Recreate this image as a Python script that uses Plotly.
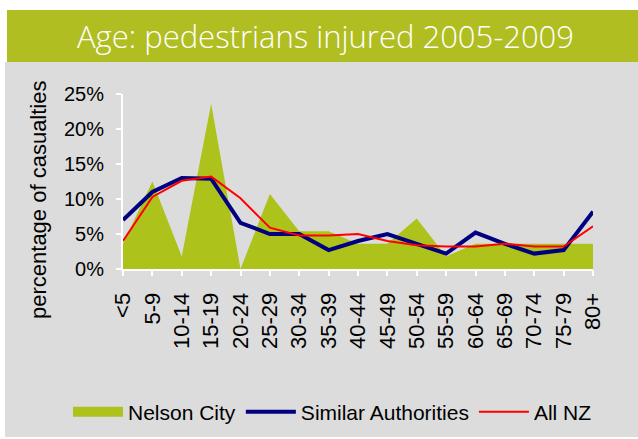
import plotly.graph_objects as go

categories = ["<5", "5-9", "10-14", "15-19", "20-24", "25-29", "30-34", "35-39", "40-44",
              "45-49", "50-54", "55-59", "60-64", "65-69", "70-74", "75-79", "80+"]
nelson_city = [0.036, 0.125, 0.018, 0.236, 0.0, 0.107, 0.054, 0.054, 0.036,
               0.036, 0.072, 0.018, 0.036, 0.036, 0.036, 0.036, 0.036]
similar_auth = [0.070, 0.110, 0.130, 0.129, 0.066, 0.050, 0.050, 0.027, 0.040,
                0.050, 0.036, 0.022, 0.052, 0.036, 0.022, 0.027, 0.082]
all_nz = [0.040, 0.103, 0.126, 0.132, 0.101, 0.059, 0.048, 0.048, 0.050,
          0.040, 0.034, 0.032, 0.032, 0.036, 0.032, 0.032, 0.061]

W, H = 638, 439
L, R, T, B = 123, 45, 94, 170
PW, PH = W - L - R, H - T - B

def px(x):
    return (x - L) / PW

def py(y):
    return (H - B - y) / PH

GREEN_AREA = "#adc21a"
GREEN_BAR = "#b0be22"
GRAY = "#dcdcdc"
FONT = "Liberation Sans, Arial, sans-serif"

fig = go.Figure()
fig.add_trace(go.Scatter(x=categories, y=nelson_city, name="Nelson City", mode="lines",
                         fill="tozeroy", fillcolor=GREEN_AREA, showlegend=False,
                         legendgroup="nelson", line=dict(width=0, color=GREEN_AREA)))
# legend-only entry giving the Nelson City key a solid block swatch
fig.add_trace(go.Scatter(x=[None], y=[None], name="Nelson City", mode="lines",
                         legendgroup="nelson", line=dict(width=13, color=GREEN_AREA)))
fig.add_trace(go.Scatter(x=categories, y=similar_auth, name="Similar Authorities", mode="lines",
                         line=dict(color="#000080", width=4)))
fig.add_trace(go.Scatter(x=categories, y=all_nz, name="All NZ", mode="lines",
                         line=dict(color="#ff0000", width=2)))

shapes = [
    dict(type="rect", xref="paper", yref="paper", x0=px(5), x1=px(638), y0=py(437), y1=py(62),
         fillcolor=GRAY, line=dict(width=0), layer="below"),
    dict(type="rect", xref="paper", yref="paper", x0=px(7), x1=px(638), y0=py(62), y1=py(10),
         fillcolor=GREEN_BAR, line=dict(width=0), layer="below"),
]

annotations = [
    dict(text="Age: pedestrians injured 2005-2009", xref="paper", yref="paper",
         x=px(325), y=py(36), xanchor="center", yanchor="middle", showarrow=False,
         font=dict(family="Open Sans, Lato, sans-serif", size=31, color="white", weight=300)),
    dict(text="percentage of casualties", xref="paper", yref="paper",
         x=px(38), y=py(200), xanchor="center", yanchor="middle", showarrow=False,
         textangle=-90, font=dict(family=FONT, size=22, color="black")),
]

fig.update_layout(
    width=W, height=H,
    margin=dict(l=L, r=R, t=T, b=B, pad=0, autoexpand=False),
    paper_bgcolor="white", plot_bgcolor=GRAY,
    shapes=shapes, annotations=annotations,
    showlegend=True,
    legend=dict(orientation="h", x=px(68), y=py(412), xanchor="left", yanchor="middle",
                font=dict(family=FONT, size=21, color="black"), bgcolor="rgba(0,0,0,0)",
                itemwidth=50, traceorder="normal"),
    xaxis=dict(type="category", range=[0, 16], showgrid=False, zeroline=False,
               showline=True, linecolor="white", linewidth=2, automargin=False,
               ticks="outside", ticklen=5, tickcolor="white", tickwidth=2,
               tickangle=-90, ticklabelstandoff=8,
               tickfont=dict(family=FONT, size=22, color="black")),
    yaxis=dict(range=[0, 0.25], dtick=0.05, tickformat=".0%", showgrid=False, zeroline=False,
               showline=True, linecolor="white", linewidth=2, automargin=False,
               ticks="outside", ticklen=5, tickcolor="white", tickwidth=2,
               ticklabelstandoff=8,
               tickfont=dict(family=FONT, size=20, color="black")),
)

fig.write_html("out.html", config={"displayModeBar": False},
               post_script="document.body.style.margin='0';")
